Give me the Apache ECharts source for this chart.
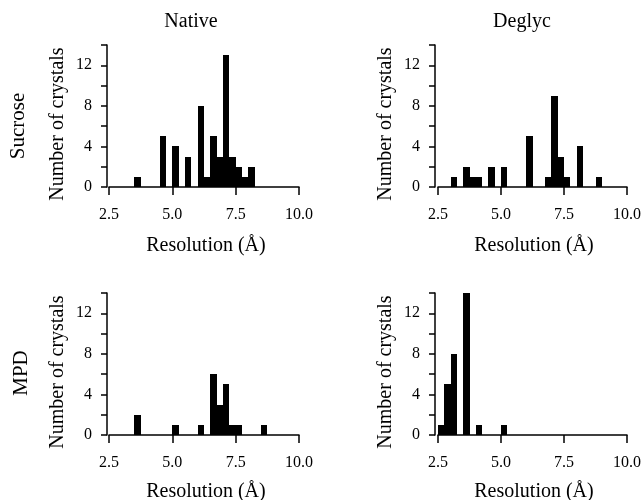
<!DOCTYPE html>
<html>
<head>
<meta charset="utf-8">
<script src="https://cdn.jsdelivr.net/npm/echarts@6/dist/echarts.min.js"></script>
<style>html,body{margin:0;padding:0;background:#fff}#c{width:644px;height:500px}</style>
</head>
<body>
<div id="c"></div>
<script>
// ---- data (bin start in Å, number of crystals), bins are 0.25 Å wide ----
const BIN_WIDTH = 0.25;
const nativeSucroseBins   = [3.5, 4.5, 5.0, 5.5, 6.0, 6.25, 6.5, 6.75, 7.0, 7.25, 7.5, 7.75, 8.0];
const nativeSucroseCounts = [1, 5, 4, 3, 8, 1, 5, 3, 13, 3, 2, 1, 2];
const deglycSucroseBins   = [3.0, 3.5, 3.75, 4.0, 4.5, 5.0, 6.0, 6.75, 7.0, 7.25, 7.5, 8.0, 8.75];
const deglycSucroseCounts = [1, 2, 1, 1, 2, 2, 5, 1, 9, 3, 1, 4, 1];
const nativeMpdBins       = [3.5, 5.0, 6.0, 6.5, 6.75, 7.0, 7.25, 7.5, 8.5];
const nativeMpdCounts     = [2, 1, 1, 6, 3, 5, 1, 1, 1];
const deglycMpdBins       = [2.5, 2.75, 3.0, 3.5, 4.0, 5.0];
const deglycMpdCounts     = [1, 5, 8, 14, 1, 1];

const columnTitles = ['Native', 'Deglyc'];
const rowTitles = ['Sucrose', 'MPD'];
const xAxisTitle = 'Resolution (Å)';
const yAxisTitle = 'Number of crystals';
const xTicks = [2.5, 5.0, 7.5, 10.0];
const yTicks = [0, 4, 8, 12];

const FONT = "'Liberation Serif','DejaVu Serif',serif";
const panels = [
  {bins: nativeSucroseBins, counts: nativeSucroseCounts, left: 109, top: 45, off: 2},
  {bins: deglycSucroseBins, counts: deglycSucroseCounts, left: 438, top: 45, off: 3},
  {bins: nativeMpdBins, counts: nativeMpdCounts, left: 109, top: 293, off: 2},
  {bins: deglycMpdBins, counts: deglycMpdCounts, left: 438, top: 293, off: 3}
];

function renderItem(params, api) {
  const x0 = api.value(0), c = api.value(1);
  const p0 = api.coord([x0, 0]);
  const p1 = api.coord([x0 + BIN_WIDTH, c]);
  const xa = Math.round(p0[0]), xb = Math.round(p1[0]);
  const yTop = Math.round(p1[1]), yBase = p0[1];
  return {type: 'rect', shape: {x: xa, y: yTop, width: xb - xa, height: yBase - yTop},
          style: {fill: '#000'}};
}

const grid = [], xAxis = [], yAxis = [], series = [];
panels.forEach((p, i) => {
  grid.push({left: p.left, top: p.top, width: 190, height: 142});
  xAxis.push({
    type: 'value', gridIndex: i, min: xTicks[0], max: xTicks[xTicks.length - 1], interval: 2.5,
    axisLine: {onZero: false, lineStyle: {color: '#000', width: 1.5}},
    axisTick: {show: true, length: 8, lineStyle: {color: '#000', width: 1.5}},
    axisLabel: {color: '#000', fontFamily: FONT, fontSize: 16, margin: 20,
      formatter: v => xTicks.some(t => Math.abs(t - v) < 1e-6) ? v.toFixed(1) : ''},
    splitLine: {show: false}
  });
  yAxis.push({
    type: 'value', gridIndex: i, min: 0, max: 14, interval: 2, offset: p.off,
    axisLine: {show: true, lineStyle: {color: '#000', width: 1.5}},
    axisTick: {show: true, length: 6, lineStyle: {color: '#000', width: 1.5}},
    axisLabel: {color: '#000', fontFamily: FONT, fontSize: 16, margin: 15,
      formatter: v => yTicks.indexOf(v) >= 0 ? String(v) : ''},
    splitLine: {show: false}
  });
  series.push({
    type: 'custom', xAxisIndex: i, yAxisIndex: i, renderItem: renderItem,
    data: p.bins.map((b, k) => [b, p.counts[k]]), silent: true
  });
});

function txt(text, x, y, size, rot) {
  return {type: 'text', x: x, y: y, rotation: rot ? Math.PI / 2 : 0,
    style: {text: text, font: size + 'px ' + FONT, fontSize: size, fontFamily: FONT, fill: '#000',
      textAlign: 'center', textVerticalAlign: 'middle', align: 'center', verticalAlign: 'middle'}};
}
const graphic = [
  txt(columnTitles[0], 191, 22, 20),
  txt(columnTitles[1], 522, 22, 20),
  txt(rowTitles[0], 18, 126, 21, true),
  txt(rowTitles[1], 21, 373, 21, true),
  txt(yAxisTitle, 58, 124, 20, true),
  txt(yAxisTitle, 386, 124, 20, true),
  txt(yAxisTitle, 58, 372, 20, true),
  txt(yAxisTitle, 386, 372, 20, true),
  txt(xAxisTitle, 206, 246, 20),
  txt(xAxisTitle, 534, 246, 20),
  txt(xAxisTitle, 206, 492, 20),
  txt(xAxisTitle, 534, 492, 20)
];

const chart = echarts.init(document.getElementById('c'), null, {renderer: 'canvas'});
chart.setOption({animation: false, backgroundColor: '#fff', grid, xAxis, yAxis, series, graphic});
</script>
</body>
</html>
